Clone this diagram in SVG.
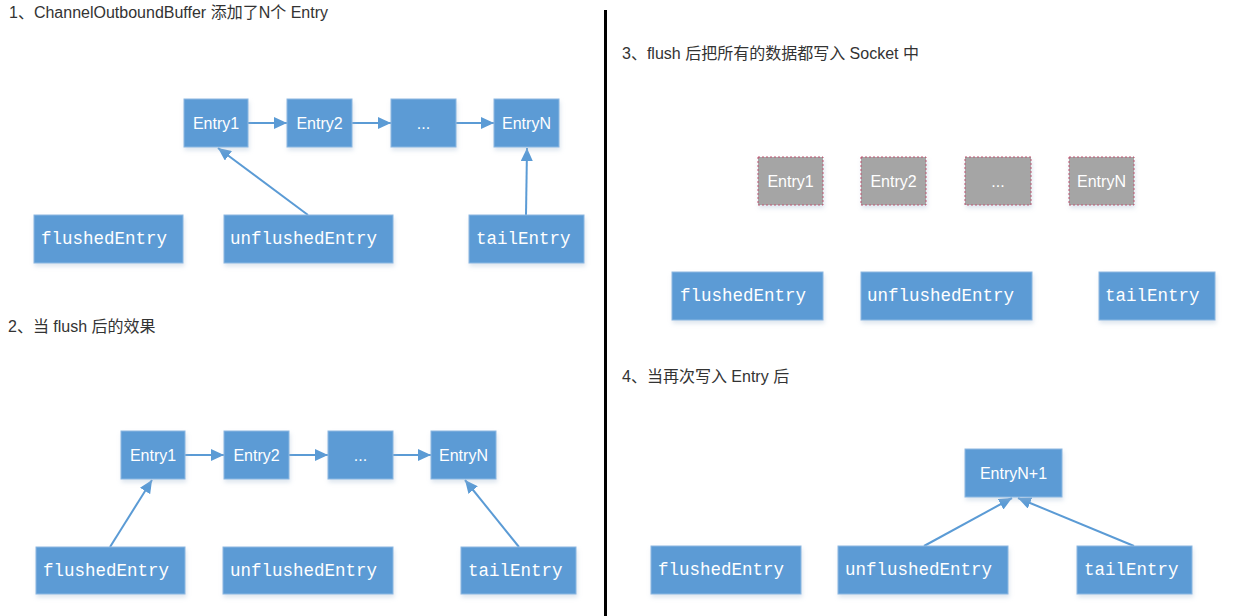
<svg xmlns="http://www.w3.org/2000/svg" width="1248" height="616" viewBox="0 0 1248 616">
<style>
.title{font-family:"Liberation Sans","Noto Sans CJK SC",sans-serif;font-size:16px;fill:#333}
.box{fill:#5b9bd5;stroke:#8db8e2;stroke-width:1;filter:url(#sh)}
.gbox{fill:#a5a5a5;stroke:#c0506e;stroke-width:1;stroke-dasharray:2 2;filter:url(#sh)}
.lbl{font-family:"Liberation Sans","Open Sans",sans-serif;font-size:16px;fill:#fff;text-anchor:middle;dominant-baseline:central}
.mono{font-family:"Liberation Mono",monospace;font-size:17.5px;fill:#fff;dominant-baseline:central}
.conn{stroke:#5b9bd5;stroke-width:2;fill:none;marker-end:url(#ah)}
</style>
<defs>
<filter id="sh" x="-10%" y="-10%" width="130%" height="140%">
<feDropShadow dx="1" dy="3" stdDeviation="2" flood-color="#9fb7d0" flood-opacity="0.35"/>
</filter>
<marker id="ah" markerUnits="userSpaceOnUse" markerWidth="14" markerHeight="12" refX="13" refY="6" orient="auto">
<path d="M0,0 L13,6 L0,12 z" fill="#5b9bd5"/>
</marker>
</defs>
<rect width="1248" height="616" fill="#fff"/>
<line x1="605.5" y1="10" x2="605.5" y2="616" stroke="#000" stroke-width="3"/>

<text class="title" x="9" y="17.5">1、ChannelOutboundBuffer 添加了N个 Entry</text>
<text class="title" x="8" y="331.5">2、当 flush 后的效果</text>
<text class="title" x="622" y="59">3、flush 后把所有的数据都写入 Socket 中</text>
<text class="title" x="622" y="381.5">4、当再次写入 Entry 后</text>

<g id="connectors">
<line class="conn" x1="248" y1="123" x2="287" y2="123"/>
<line class="conn" x1="352" y1="123" x2="391" y2="123"/>
<line class="conn" x1="456" y1="123" x2="494" y2="123"/>
<line class="conn" x1="308" y1="215" x2="218" y2="148"/>
<line class="conn" x1="526" y1="215" x2="527" y2="148"/>

<line class="conn" x1="185" y1="455" x2="224" y2="455"/>
<line class="conn" x1="289" y1="455" x2="328" y2="455"/>
<line class="conn" x1="393" y1="455" x2="431" y2="455"/>
<line class="conn" x1="110" y1="547" x2="152" y2="480"/>
<line class="conn" x1="519" y1="547" x2="465" y2="480"/>

<line class="conn" x1="924" y1="546" x2="1012" y2="498"/>
<line class="conn" x1="1134" y1="546" x2="1018" y2="498"/>
</g>

<g id="p1-entry1"><rect class="box" x="184" y="99" width="64" height="48"/><text class="lbl" x="216" y="123">Entry1</text></g>
<g id="p1-entry2"><rect class="box" x="287" y="99" width="65" height="48"/><text class="lbl" x="319.5" y="123">Entry2</text></g>
<g id="p1-dots"><rect class="box" x="391" y="99" width="65" height="48"/><text class="lbl" x="423.5" y="123">...</text></g>
<g id="p1-entryN"><rect class="box" x="494" y="99" width="65" height="48"/><text class="lbl" x="526.5" y="123">EntryN</text></g>
<g id="p1-flushed"><rect class="box" x="34" y="215" width="149" height="48"/><text class="mono" x="41" y="239">flushedEntry</text></g>
<g id="p1-unflushed"><rect class="box" x="224" y="215" width="169" height="48"/><text class="mono" x="230" y="239">unflushedEntry</text></g>
<g id="p1-tail"><rect class="box" x="469" y="215" width="115" height="48"/><text class="mono" x="476" y="239">tailEntry</text></g>

<g id="p2-entry1"><rect class="box" x="121" y="431" width="64" height="48"/><text class="lbl" x="153" y="455">Entry1</text></g>
<g id="p2-entry2"><rect class="box" x="224" y="431" width="65" height="48"/><text class="lbl" x="256.5" y="455">Entry2</text></g>
<g id="p2-dots"><rect class="box" x="328" y="431" width="65" height="48"/><text class="lbl" x="360.5" y="455">...</text></g>
<g id="p2-entryN"><rect class="box" x="431" y="431" width="65" height="48"/><text class="lbl" x="463.5" y="455">EntryN</text></g>
<g id="p2-flushed"><rect class="box" x="36" y="547" width="149" height="47"/><text class="mono" x="43" y="570.5">flushedEntry</text></g>
<g id="p2-unflushed"><rect class="box" x="223" y="547" width="170" height="47"/><text class="mono" x="230" y="570.5">unflushedEntry</text></g>
<g id="p2-tail"><rect class="box" x="461" y="547" width="115" height="47"/><text class="mono" x="468" y="570.5">tailEntry</text></g>

<g id="p3-entry1"><rect class="gbox" x="758" y="157" width="65" height="48"/><text class="lbl" x="790.5" y="181">Entry1</text></g>
<g id="p3-entry2"><rect class="gbox" x="861" y="157" width="65" height="48"/><text class="lbl" x="893.5" y="181">Entry2</text></g>
<g id="p3-dots"><rect class="gbox" x="965" y="157" width="66" height="48"/><text class="lbl" x="998" y="181">...</text></g>
<g id="p3-entryN"><rect class="gbox" x="1069" y="157" width="65" height="48"/><text class="lbl" x="1101.5" y="181">EntryN</text></g>
<g id="p3-flushed"><rect class="box" x="672" y="272" width="151" height="48"/><text class="mono" x="680" y="296">flushedEntry</text></g>
<g id="p3-unflushed"><rect class="box" x="861" y="272" width="171" height="48"/><text class="mono" x="867" y="296">unflushedEntry</text></g>
<g id="p3-tail"><rect class="box" x="1099" y="272" width="116" height="48"/><text class="mono" x="1105" y="296">tailEntry</text></g>

<g id="p4-entryN1"><rect class="box" x="965" y="449" width="97" height="48"/><text class="lbl" x="1013.5" y="473">EntryN+1</text></g>
<g id="p4-flushed"><rect class="box" x="651" y="546" width="150" height="48"/><text class="mono" x="658" y="570">flushedEntry</text></g>
<g id="p4-unflushed"><rect class="box" x="838" y="546" width="170" height="48"/><text class="mono" x="845" y="570">unflushedEntry</text></g>
<g id="p4-tail"><rect class="box" x="1077" y="546" width="115" height="48"/><text class="mono" x="1084" y="570">tailEntry</text></g>
</svg>
